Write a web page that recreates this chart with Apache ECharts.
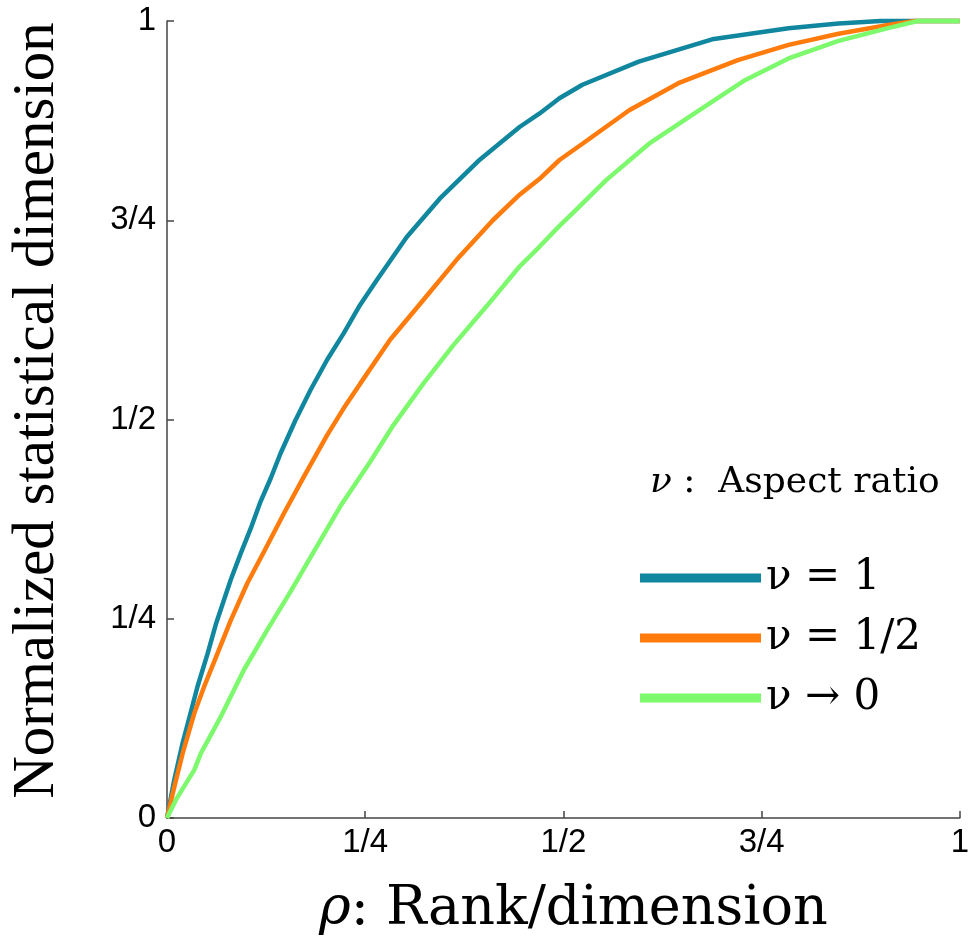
<!DOCTYPE html>
<html>
<head>
<meta charset="utf-8">
<script src="https://cdn.jsdelivr.net/npm/echarts@6/dist/echarts.min.js"></script>
<style>
html,body{margin:0;padding:0;background:#fff;}
#chart{width:972px;height:944px;}
</style>
</head>
<body>
<div id="chart"></div>
<script>
// Tick labels
const xTickLabels = ['0', '1/4', '1/2', '3/4', '1'];
const yTickLabels = ['0', '1/4', '1/2', '3/4', '1'];

// Series names
const seriesNames = ['ν = 1', 'ν = 1/2', 'ν → 0'];

// ν = 1  [rho, normalized statistical dimension]
const nu1 = [
  [0, 0], [0.0092, 0.048], [0.0197, 0.094], [0.0385, 0.165], [0.0511, 0.206],
  [0.0616, 0.243], [0.0804, 0.299], [0.093, 0.332], [0.1055, 0.363], [0.118, 0.397],
  [0.1307, 0.426], [0.143, 0.457], [0.162, 0.499], [0.181, 0.537], [0.202, 0.575],
  [0.2228, 0.608], [0.2437, 0.644], [0.2647, 0.675], [0.3024, 0.729], [0.344, 0.777],
  [0.3945, 0.826], [0.4447, 0.867], [0.47, 0.884], [0.495, 0.903], [0.524, 0.920],
  [0.595, 0.949], [0.6876, 0.977], [0.784, 0.991], [0.847, 0.997], [0.9, 1.0], [1.0, 1.0]
];

// ν = 1/2
const nuHalf = [
  [0, 0], [0.0092, 0.039], [0.0197, 0.081], [0.0343, 0.131], [0.0469, 0.165],
  [0.0594, 0.196], [0.0804, 0.248], [0.1013, 0.2945], [0.1223, 0.334], [0.1474, 0.382],
  [0.1725, 0.428], [0.2018, 0.480], [0.2228, 0.514], [0.2437, 0.545],
  [0.2814, 0.600], [0.3233, 0.650], [0.365, 0.700], [0.411, 0.750], [0.4447, 0.782],
  [0.47, 0.802], [0.495, 0.8256], [0.524, 0.846], [0.583, 0.888], [0.645, 0.922],
  [0.72, 0.951], [0.784, 0.970], [0.847, 0.984], [0.9095, 0.995], [0.943, 1.0], [1.0, 1.0]
];

// ν → 0
const nuZero = [
  [0, 0], [0.0113, 0.023], [0.0343, 0.060], [0.0427, 0.081], [0.0678, 0.127],
  [0.0971, 0.186], [0.1265, 0.236], [0.1558, 0.284], [0.185, 0.334], [0.2186, 0.391],
  [0.2563, 0.447], [0.2856, 0.493], [0.3233, 0.545], [0.361, 0.593], [0.403, 0.642],
  [0.4447, 0.692], [0.47, 0.717], [0.495, 0.743], [0.5117, 0.759], [0.5536, 0.800],
  [0.608, 0.846], [0.671, 0.888], [0.7295, 0.926], [0.784, 0.953], [0.847, 0.975],
  [0.9095, 0.991], [0.947, 1.0], [1.0, 1.0]
];

const colors = ['#11879f', '#ff7b0b', '#7cf96c'];
const seriesData = [nu1, nuHalf, nuZero];

const chart = echarts.init(document.getElementById('chart'), null, {renderer: 'canvas'});

const tickFont = {fontFamily: 'Liberation Sans, Arial, sans-serif', fontSize: 33, color: '#000'};

chart.setOption({
  backgroundColor: '#ffffff',
  animation: false,
  title: {
    text: '{i|ν} :  Aspect ratio',
    left: 650,
    top: 465,
    padding: 0,
    textStyle: {
      fontFamily: 'DejaVu Serif',
      fontWeight: 'normal',
      fontSize: 36,
      color: '#000',
      rich: {
        i: {fontFamily: 'DejaVu Serif', fontStyle: 'italic', fontSize: 36, color: '#000'}
      }
    }
  },
  legend: {
    orient: 'vertical',
    left: 640,
    top: 556,
    padding: 0,
    itemWidth: 121,
    itemHeight: 9,
    itemGap: 16,
    icon: 'rect',
    data: seriesNames,
    textStyle: {
      fontFamily: 'DejaVu Serif',
      fontSize: 42,
      lineHeight: 44,
      color: '#000'
    }
  },
  grid: {left: 166, right: 10, top: 21, bottom: 126, containLabel: false},
  xAxis: {
    type: 'value',
    min: 0,
    max: 1,
    interval: 0.25,
    splitLine: {show: false},
    axisLine: {lineStyle: {color: '#444', width: 1.5}},
    axisTick: {inside: true, length: 7, lineStyle: {color: '#444', width: 1.5}},
    axisLabel: Object.assign({margin: 8, formatter: v => xTickLabels[Math.round(v * 4)]}, tickFont),
    name: '{r|ρ}: Rank/dimension',
    nameLocation: 'middle',
    nameGap: 65,
    nameTextStyle: {
      fontFamily: 'DejaVu Serif',
      fontSize: 54,
      color: '#000',
      padding: [0, 0, 0, 20],
      rich: {r: {fontFamily: 'DejaVu Serif', fontStyle: 'italic', fontSize: 54, color: '#000'}}
    }
  },
  yAxis: {
    type: 'value',
    min: 0,
    max: 1,
    interval: 0.25,
    splitLine: {show: false},
    axisLine: {show: true, lineStyle: {color: '#444', width: 1.5}},
    axisTick: {show: true, inside: true, length: 7, lineStyle: {color: '#444', width: 1.5}},
    axisLabel: Object.assign({margin: 11, formatter: v => yTickLabels[Math.round(v * 4)]}, tickFont),
    name: 'Normalized statistical dimension',
    nameLocation: 'middle',
    nameGap: 100,
    nameTextStyle: {fontFamily: 'Liberation Serif', fontSize: 59, color: '#000', padding: [0, 0, 0, 18]}
  },
  series: seriesData.map((d, i) => ({
    name: seriesNames[i],
    type: 'line',
    data: d,
    showSymbol: false,
    symbol: 'none',
    clip: false,
    color: colors[i],
    lineStyle: {color: colors[i], width: 4.5},
    z: 2 + i
  }))
});
</script>
</body>
</html>
